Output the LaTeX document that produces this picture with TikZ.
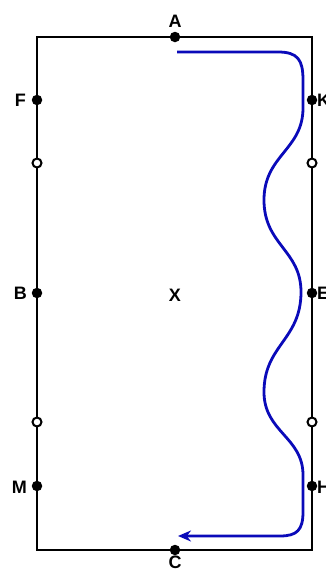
\documentclass[tikz,border=0pt]{standalone}
\usepackage{fontspec}
\setmainfont{Liberation Sans}
\usetikzlibrary{arrows.meta}
\begin{document}
\begin{tikzpicture}[x=1pt,y=-1pt,
  frame/.style={line width=1.8pt,black},
  fdot/.style={circle,fill=black,inner sep=0pt,minimum size=10.5pt},
  odot/.style={circle,draw=black,line width=2pt,fill=white,inner sep=0pt,minimum size=9pt},
  lbl/.style={font=\bfseries\fontsize{18}{18}\selectfont,inner sep=1pt},
  flow/.style={line width=2.8pt,draw={rgb,255:red,10;green,10;blue,185},-{Stealth[length=13pt,width=11pt]}}]
\useasboundingbox (0,0) rectangle (326,574);
\begin{scope}
\clip (0,0) rectangle (326,574);
\coordinate (tl) at (37,37);
\coordinate (tr) at (312,37);
\coordinate (br) at (312,550);
\coordinate (bl) at (37,550);
\draw[frame] (tl) -- (tr) -- (br) -- (bl) -- cycle;
% left side
\node[fdot] (F) at (37,100) {};
\node[odot] (L1) at (37,163) {};
\node[fdot] (B) at (37,293) {};
\node[odot] (L2) at (37,422) {};
\node[fdot] (M) at (37,486) {};
% right side
\node[fdot] (K) at (312,100) {};
\node[odot] (R1) at (312,163) {};
\node[fdot] (E) at (312,293) {};
\node[odot] (R2) at (312,422) {};
\node[fdot] (H) at (312,486) {};
% top/bottom
\node[fdot] (A) at (175,37) {};
\node[fdot] (C) at (175,550) {};
% labels
\node[lbl,anchor=south] (tA) at (175,29) {A};
\node[lbl,anchor=north] (tC) at (175,555) {C};
\node[lbl,anchor=east] (tF) at (27,100) {F};
\node[lbl,anchor=east] (tB) at (28,293) {B};
\node[lbl,anchor=east] (tM) at (28,487) {M};
\node[lbl,anchor=west] (tK) at (316,100) {K};
\node[lbl,anchor=west] (tE) at (316,293) {E};
\node[lbl,anchor=west] (tH) at (316,487) {H};
\node[lbl] (X) at (175,295) {X};
% flow curve
\coordinate (s) at (177,52);
\coordinate (t) at (178,536);
\draw[flow] (s) -- (278,52) .. controls (298,52) and (303,60) .. (303,80) -- (303,108)
  .. controls (303,150) and (264,155) .. (264,200)
  .. controls (264,245) and (301,250) .. (301,292)
  .. controls (301,340) and (264,345) .. (264,392)
  .. controls (264,432) and (303,437) .. (303,475)
  -- (303,512) .. controls (303,530) and (297,536) .. (280,536) -- (t);
\end{scope}
\end{tikzpicture}
\end{document}
